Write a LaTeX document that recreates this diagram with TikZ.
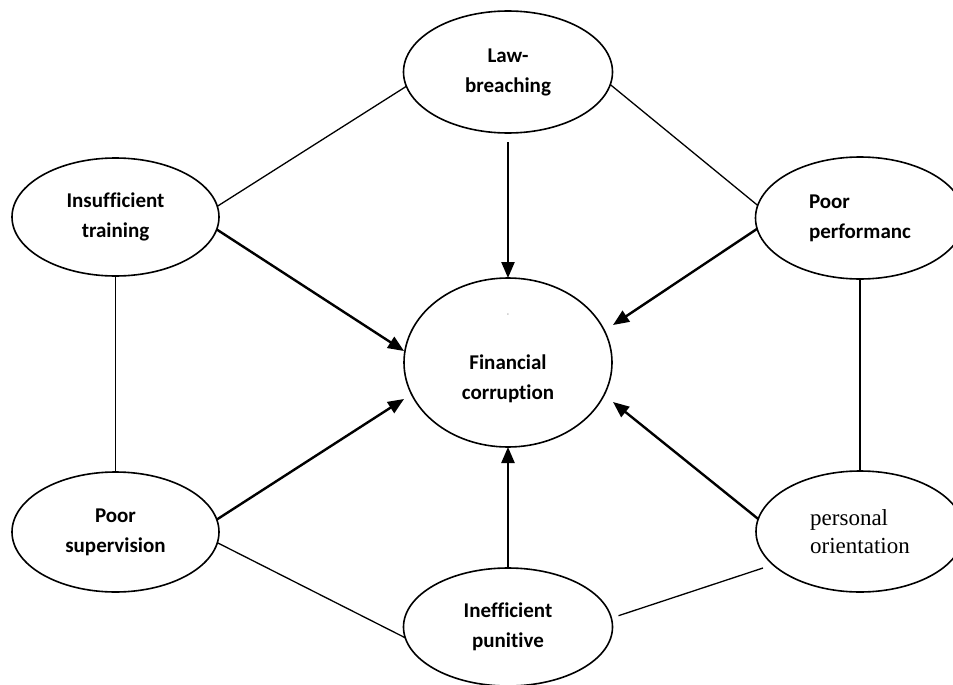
\documentclass[tikz,border=0pt]{standalone}
\usepackage{fontspec}
\setmainfont{Carlito}[Ligatures={NoCommon}]
\newfontfamily\orientface{Liberation Serif}
\usetikzlibrary{arrows.meta,shapes.geometric,calc}
\begin{document}
\begin{tikzpicture}[x=1pt,y=-1pt,
  ell/.style={ellipse, draw, line width=1.6pt, inner sep=0pt, outer sep=0pt,
    font=\bfseries\fontsize{21}{30}\selectfont, align=center},
  link/.style={line width=1.3pt},
  cause/.style={line width=2.4pt, -{Triangle[length=16pt,width=13pt]}},
]
\clip (0,0) rectangle (953,685);
% nodes
\node[ell, minimum width=209pt, minimum height=122pt] (L)  at (508,72)    {Law-\\breaching};
\node[ell, minimum width=207pt, minimum height=118pt] (IT) at (115.5,217) {Insufficient\\training};
\node[ell, minimum width=209pt, minimum height=122pt, align=left] (PP) at (860,218) {Poor\\performanc};
\node[ell, minimum width=208pt, minimum height=169pt] (FC) at (508,362.5) {};
\node[font=\bfseries\fontsize{21}{30}\selectfont, align=center] (FCtext) at ($(FC)+(0,16)$) {Financial\\corruption};
\node[font=\fontsize{7}{8}\selectfont, text=black!60, inner sep=0pt] (FCdash) at ($(FC)+(0,-47.5)$) {-};
\node[ell, minimum width=207pt, minimum height=120pt] (PS) at (115.5,532) {Poor\\supervision};
\node[ell, minimum width=208pt, minimum height=121pt, align=left,
      font=\orientface\fontsize{23}{28.3}\selectfont] (PO) at (860,531.5) {personal\\orientation};
\node[ell, minimum width=209pt, minimum height=118pt] (IP) at (508,627) {Inefficient\\punitive};
% plain links
\draw[link] (IT.6) -- (L.188);
\draw[link] (L.-7) -- (PP.173);
\draw[link] (IT.south) -- (PS.north);
\draw[link] (PP.south) -- (PO.north);
\draw[link] (PS.-6.5) -- (IP.186.6);
\draw[link] ($(PO)+(-97,36.5)$) -- ($(IP)+(110.5,-11.3)$);
% causal arrows
\draw[cause, shorten <=9pt] (L.south) -- (FC.north);
\draw[cause] (IT.-7) -- ($(FC)+(-104,-11.5)$);
\draw[cause] (PS.7) -- ($(FC)+(-104,36.5)$);
\draw[cause] (PP.186.6) -- ($(FC)+(105,-37.5)$);
\draw[cause] (PO.173) -- ($(FC)+(105,39.5)$);
\draw[cause] (IP.north) -- (FC.south);
\end{tikzpicture}
\end{document}
